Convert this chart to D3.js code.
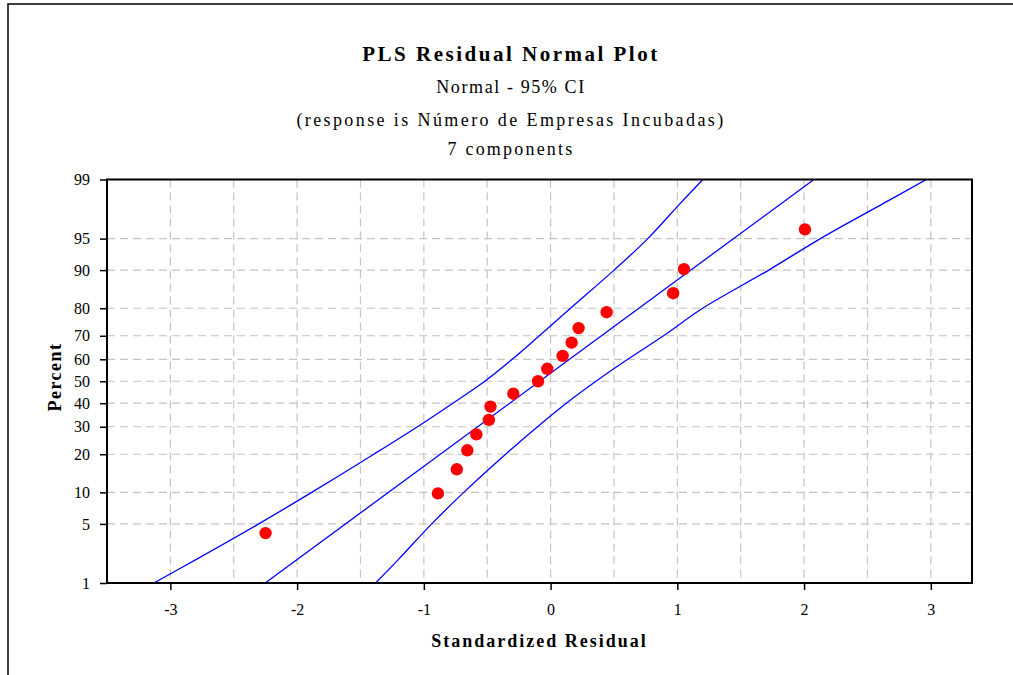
<!DOCTYPE html>
<html>
<head>
<meta charset="utf-8">
<script src="https://cdn.jsdelivr.net/npm/d3@7"></script>
<style>
  body { margin: 0; background: #fff; }
  svg { display: block; font-family: "Liberation Serif", "Times New Roman", serif; }
</style>
</head>
<body>
<div id="chart"></div>
<script>
// tick values
const probTicks = [1, 5, 10, 20, 30, 40, 50, 60, 70, 80, 90, 95, 99];
const residTicks = [-3, -2, -1, 0, 1, 2, 3];
const residGrid = [-3.5, -3, -2.5, -2, -1.5, -1, -0.5, 0, 0.5, 1, 1.5, 2, 2.5, 3];

// standardized residuals and their plotting percents
const residuals = [-2.249, -0.889, -0.740, -0.657, -0.586, -0.487, -0.474, -0.294, -0.099,
  -0.026, 0.095, 0.166, 0.221, 0.442, 0.967, 1.052, 2.007];
const percents = [4.0, 9.8, 15.5, 21.3, 27.0, 32.8, 38.5, 44.3, 50.0, 55.7, 61.5, 67.2,
  73.0, 78.7, 84.5, 90.2, 96.0];

// fitted line
const fitPercent = [1, 99];
const fitResid = [-2.252, 2.078];

// 95% CI bands, read at these percent levels
const bandPercent = [1, 2, 5, 10, 20, 30, 40, 50, 60, 70, 80, 90, 95, 98, 99];
const upperCI = [-3.131, -2.795, -2.303, -1.885, -1.395, -1.050, -0.771, -0.519, -0.303,
  -0.089, 0.157, 0.501, 0.767, 1.025, 1.202];
const lowerCI = [-1.381, -1.200, -0.938, -0.685, -0.355, -0.103, 0.124, 0.358, 0.609,
  0.891, 1.200, 1.721, 2.129, 2.630, 2.965];

// inverse normal cdf (Acklam) for the probability axis
function probit(p) {
  const a = [-39.69683028665376, 220.9460984245205, -275.9285104469687, 138.3577518672690, -30.66479806614716, 2.506628277459239];
  const b = [-54.47609879822406, 161.5858368580409, -155.6989798598866, 66.80131188771972, -13.28068155288572];
  const c = [-0.007784894002430293, -0.3223964580411365, -2.400758277161838, -2.549732539343734, 4.374664141464968, 2.938163982698783];
  const d = [0.007784695709041462, 0.3224671290700398, 2.445134137142996, 3.754408661907416];
  const plow = 0.02425;
  let q, r;
  if (p < plow) {
    q = Math.sqrt(-2 * Math.log(p));
    return (((((c[0]*q+c[1])*q+c[2])*q+c[3])*q+c[4])*q+c[5]) / ((((d[0]*q+d[1])*q+d[2])*q+d[3])*q+1);
  }
  if (p <= 1 - plow) {
    q = p - 0.5; r = q * q;
    return (((((a[0]*r+a[1])*r+a[2])*r+a[3])*r+a[4])*r+a[5])*q / (((((b[0]*r+b[1])*r+b[2])*r+b[3])*r+b[4])*r+1);
  }
  q = Math.sqrt(-2 * Math.log(1 - p));
  return -(((((c[0]*q+c[1])*q+c[2])*q+c[3])*q+c[4])*q+c[5]) / ((((d[0]*q+d[1])*q+d[2])*q+d[3])*q+1);
}

const W = 1013, H = 675;
const plotLeft = 107, plotRight = 972, plotTop = 179.5, plotBottom = 583;

const svg = d3.select("#chart").append("svg")
  .attr("width", W)
  .attr("height", H);

// outer frame (only left and top edges visible)
svg.append("rect")
  .attr("x", 8).attr("y", 4)
  .attr("width", 1030).attr("height", 700)
  .attr("fill", "none")
  .attr("stroke", "#000")
  .attr("stroke-width", 1.5);

const x = d3.scaleLinear().domain([-3.5, 3.325]).range([plotLeft, plotRight]);
const yz = d3.scaleLinear().domain([probit(0.01), probit(0.99)]).range([plotBottom, plotTop]);
const y = p => yz(probit(p / 100));

// grid
const grid = svg.append("g")
  .attr("stroke", "#c4c4c4")
  .attr("stroke-width", 1.2)
  .attr("stroke-dasharray", "8,5");

grid.selectAll("line.v")
  .data(residGrid)
  .enter()
  .append("line")
  .attr("class", "v")
  .attr("x1", d => x(d)).attr("x2", d => x(d))
  .attr("y1", plotTop).attr("y2", plotBottom);

grid.selectAll("line.h")
  .data(probTicks.slice(1, -1))
  .enter()
  .append("line")
  .attr("class", "h")
  .attr("x1", plotLeft).attr("x2", plotRight)
  .attr("y1", d => y(d)).attr("y2", d => y(d));

// CI bands and fitted line
const line = d3.line()
  .x(d => x(d[1]))
  .y(d => y(d[0]))
  .curve(d3.curveCatmullRom.alpha(0.5));

const lines = [
  bandPercent.map((p, i) => [p, upperCI[i]]),
  fitPercent.map((p, i) => [p, fitResid[i]]),
  bandPercent.map((p, i) => [p, lowerCI[i]])
];

svg.append("defs").append("clipPath").attr("id", "plotclip")
  .append("rect")
  .attr("x", plotLeft).attr("y", plotTop)
  .attr("width", plotRight - plotLeft).attr("height", plotBottom - plotTop);

svg.append("g")
  .attr("clip-path", "url(#plotclip)")
  .selectAll("path")
  .data(lines)
  .enter()
  .append("path")
  .attr("d", line)
  .attr("fill", "none")
  .attr("stroke", "#0000ff")
  .attr("stroke-width", 1.3);

// points
svg.selectAll("circle")
  .data(residuals)
  .enter()
  .append("circle")
  .attr("cx", d => x(d))
  .attr("cy", (d, i) => y(percents[i]))
  .attr("r", 6.2)
  .attr("fill", "#ff0000");

// axes
const xAxis = svg.append("g")
  .attr("transform", "translate(0," + plotBottom + ")")
  .call(d3.axisBottom(x).tickValues(residTicks).tickSize(7).tickSizeOuter(0).tickPadding(14)
    .tickFormat(d => String(d)));

const yAxis = svg.append("g")
  .attr("transform", "translate(" + plotLeft + ",0)")
  .call(d3.axisLeft(yz).tickValues(probTicks.map(p => probit(p / 100))).tickSize(7).tickSizeOuter(0).tickPadding(10)
    .tickFormat((d, i) => probTicks[i]));

[xAxis, yAxis].forEach(g => {
  g.select(".domain").remove();
  g.selectAll(".tick line").attr("stroke", "#000").attr("stroke-width", 1.5);
  g.selectAll("text")
    .attr("fill", "#000")
    .style("font-family", "Liberation Serif")
    .style("font-size", "16px");
});

// plot frame
svg.append("rect")
  .attr("x", plotLeft).attr("y", plotTop)
  .attr("width", plotRight - plotLeft).attr("height", plotBottom - plotTop)
  .attr("fill", "none")
  .attr("stroke", "#000")
  .attr("stroke-width", 2);

// titles
const titles = [
  { text: "PLS Residual Normal Plot", y: 61, size: 21, weight: "bold", ls: 2.5 },
  { text: "Normal - 95% CI", y: 93, size: 18, weight: "normal", ls: 1.6 },
  { text: "(response is Número de Empresas Incubadas)", y: 126, size: 18, weight: "normal", ls: 2.4 },
  { text: "7 components", y: 155, size: 18, weight: "normal", ls: 2.2 }
];

svg.selectAll("text.title")
  .data(titles)
  .enter()
  .append("text")
  .attr("class", "title")
  .attr("x", 511)
  .attr("y", d => d.y)
  .attr("text-anchor", "middle")
  .style("font-size", d => d.size + "px")
  .style("font-weight", d => d.weight)
  .style("letter-spacing", d => d.ls + "px")
  .text(d => d.text);

svg.append("text")
  .attr("x", (plotLeft + plotRight) / 2)
  .attr("y", 647)
  .attr("text-anchor", "middle")
  .style("font-size", "18px")
  .style("font-weight", "bold")
  .style("letter-spacing", "2px")
  .text("Standardized Residual");

svg.append("text")
  .attr("transform", "translate(61,377) rotate(-90)")
  .attr("text-anchor", "middle")
  .style("font-size", "18px")
  .style("font-weight", "bold")
  .style("letter-spacing", "1.5px")
  .text("Percent");
</script>
</body>
</html>
